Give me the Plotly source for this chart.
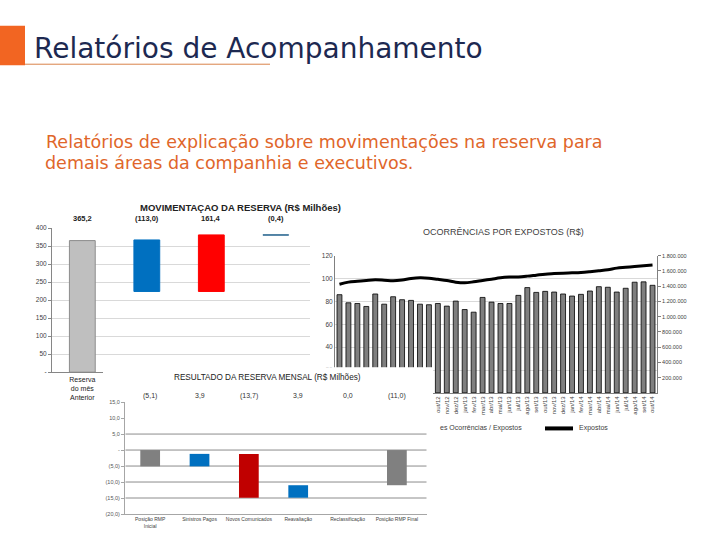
import plotly.graph_objects as go

# ---- dados ----
# grafico 1: movimentacao da reserva (R$ milhoes)
mov_rotulos = ["365,2", "(113,0)", "161,4", "(0,4)"]
mov_base = [0, 224, 224, 380.6]
mov_topo = [365.2, 367, 381, 381]
mov_cores = ["#bfbfbf", "#0070c0", "#ff0000", "#1f5f8b"]
mov_categoria = ["Reserva<br>do mês<br>Anterior"]
mov_yticks = [0, 50, 100, 150, 200, 250, 300, 350, 400]
mov_yticktext = ["-", "50", "100", "150", "200", "250", "300", "350", "400"]

# grafico 2: ocorrencias por expostos
meses = ["nov/11", "dez/11", "jan/12", "fev/12", "mar/12", "abr/12", "mai/12", "jun/12",
         "jul/12", "ago/12", "set/12", "out/12", "nov/12", "dez/12", "jan/13", "fev/13",
         "mar/13", "abr/13", "mai/13", "jun/13", "jul/13", "ago/13", "set/13", "out/13",
         "nov/13", "dez/13", "jan/14", "fev/14", "mar/14", "abr/14", "mai/14", "jun/14",
         "jul/14", "ago/14", "set/14", "out/14"]
ocorr_expostos = [85.9, 78.8, 78.2, 75.6, 86.5, 77.6, 84.1, 81.5, 80.9, 77.6, 77.1, 78.2,
                  75.9, 80.3, 72.9, 70.6, 83.5, 79.4, 78.2, 78.2, 85.3, 92.1, 87.9, 88.8,
                  88.2, 86.5, 84.7, 86.2, 89.1, 92.9, 92.4, 88.2, 91.5, 96.8, 97.1, 94.1]
expostos = [1426000, 1453000, 1465000, 1475000, 1483000, 1478000, 1470000, 1480000,
            1500000, 1510000, 1505000, 1490000, 1475000, 1453000, 1444000, 1457000,
            1475000, 1492000, 1510000, 1519000, 1522000, 1532000, 1545000, 1558000,
            1565000, 1571000, 1575000, 1580000, 1590000, 1602000, 1615000, 1637000,
            1648000, 1659000, 1668000, 1677000]
exp_ticks = [200000, 400000, 600000, 800000, 1000000, 1200000, 1400000, 1600000, 1800000]
exp_ticktext = ["200.000", "400.000", "600.000", "800.000", "1.000.000", "1.200.000",
                "1.400.000", "1.600.000", "1.800.000"]

# grafico 3: resultado da reserva mensal
res_categorias = ["Posição RMP<br>Inicial", "Sinistros Pagos", "Novos Comunicados",
                  "Reavaliação", "Reclassificação", "Posição RMP Final"]
res_valores = [-5.1, 3.9, -13.7, 3.9, 0.0, -11.0]
res_medidas = ["absolute", "relative", "relative", "relative", "relative", "total"]
res_rotulos = ["(5,1)", "3,9", "(13,7)", "3,9", "0,0", "(11,0)"]
res_yticks = [-20, -15, -10, -5, 0, 5, 10, 15]
res_yticktext = ["(20,0)", "(15,0)", "(10,0)", "(5,0)", "-", "5,0", "10,0", "15,0"]
res_grade = [5, 0, -5, -10, -15]


W, H = 720, 540


def px(p):
    return p / W


def py(p):
    return 1 - p / H


ARIAL = "Liberation Sans, Arial, sans-serif"

fig = go.Figure()

# grafico 1
fig.add_trace(go.Bar(
    x=list(range(len(mov_topo))),
    y=[t - b for t, b in zip(mov_topo, mov_base)],
    base=mov_base, width=0.4,
    marker=dict(color=mov_cores, line=dict(color=["#8c8c8c", "#0070c0", "#ff0000", "#1f5f8b"], width=1)),
    xaxis="x", yaxis="y", hoverinfo="skip"))

# grafico 2
fig.add_trace(go.Bar(
    x=meses, y=ocorr_expostos, width=0.55,
    marker=dict(color="#7f7f7f", line=dict(color="black", width=0.8)),
    xaxis="x2", yaxis="y2", name="Índice de Ocorrências / Expostos"))
fig.add_trace(go.Scatter(
    x=meses, y=expostos, mode="lines",
    line=dict(color="black", width=3, shape="spline"),
    xaxis="x2", yaxis="y3", name="Expostos"))

# fundo branco que cobre os outros graficos
fig.add_trace(go.Scatter(x=[None], y=[None], xaxis="x3", yaxis="y4",
                         showlegend=False, hoverinfo="skip"))

# grafico 3
fig.add_trace(go.Waterfall(
    x=res_categorias, y=res_valores, measure=res_medidas, width=0.4,
    textinfo="none",
    connector=dict(visible=False),
    increasing=dict(marker=dict(color="#0070c0", line=dict(width=0))),
    decreasing=dict(marker=dict(color="#c00000", line=dict(width=0))),
    totals=dict(marker=dict(color="#808080", line=dict(width=0))),
    xaxis="x4", yaxis="y5", hoverinfo="skip"))

ann = []
shapes = []

# cabecalho
shapes.append(dict(type="rect", xref="paper", yref="paper", x0=px(0), x1=px(25),
                   y0=py(62), y1=py(22), fillcolor="#f26522", line_width=0))
shapes.append(dict(type="line", xref="paper", yref="paper", x0=px(25), x1=px(270),
                   y0=py(61), y1=py(61), line=dict(color="#d9834a", width=1)))
ann.append(dict(text="Relatórios de Acompanhamento", x=px(32), y=py(45), xanchor="left",
                yanchor="middle", font=dict(family="DejaVu Sans", size=28, color="#1d2951")))
ann.append(dict(text="Relatórios de explicação sobre movimentações na reserva para",
                x=px(44), y=py(140), xanchor="left", yanchor="middle",
                font=dict(family="DejaVu Sans", size=17.5, color="#e0662a")))
ann.append(dict(text="demais áreas da companhia e executivos.",
                x=px(43), y=py(161), xanchor="left", yanchor="middle",
                font=dict(family="DejaVu Sans", size=17.5, color="#e0662a")))

# textos do grafico 1
ann.append(dict(text="<b>MOVIMENTAÇAO DA RESERVA (R$ Milhões)</b>", x=px(241), y=py(206),
                xanchor="center", yanchor="middle", font=dict(family=ARIAL, size=9.5, color="#222")))
for i, r in enumerate(mov_rotulos):
    ann.append(dict(text="<b>" + r + "</b>", xref="x", x=i, y=py(217), yanchor="middle",
                    font=dict(family=ARIAL, size=7.5, color="#222")))

# textos do grafico 2
ann.append(dict(text="OCORRÊNCIAS POR EXPOSTOS (R$)", x=px(503), y=py(231), xanchor="center",
                yanchor="middle", font=dict(family=ARIAL, size=9, color="#404040")))
ann.append(dict(text="es Ocorrências / Expostos", x=px(438), y=py(430), xanchor="left",
                yanchor="middle", font=dict(family=ARIAL, size=7, color="#404040")))
ann.append(dict(text="Expostos", x=px(577), y=py(430), xanchor="left",
                yanchor="middle", font=dict(family=ARIAL, size=7, color="#404040")))
shapes.append(dict(type="line", xref="paper", yref="paper", x0=px(545), x1=px(573),
                   y0=py(430), y1=py(430), line=dict(color="black", width=4), layer="above"))

# textos do grafico 3
ann.append(dict(text="RESULTADO DA RESERVA MENSAL (R$ Milhões)", x=px(267), y=py(378),
                xanchor="center", yanchor="middle", font=dict(family=ARIAL, size=8.2, color="#222")))
for c, r in zip(res_categorias, res_rotulos):
    ann.append(dict(text=r, xref="x4", x=c, y=py(397), yanchor="middle",
                    font=dict(family=ARIAL, size=7, color="#333")))
for g in res_grade:
    shapes.append(dict(type="line", xref="x4", yref="y5", x0=-0.5, x1=len(res_categorias) - 0.4,
                       y0=g, y1=g, line=dict(color="#8c8c8c", width=1), layer="below"))

for a in ann:
    a.setdefault("xref", "paper")
    a.setdefault("yref", "paper")
    a["showarrow"] = False

fig.update_layout(
    width=W, height=H, margin=dict(l=0, r=0, t=0, b=0),
    paper_bgcolor="white", plot_bgcolor="white", showlegend=False,
    font=dict(family=ARIAL, color="#333"),
    annotations=ann, shapes=shapes,
    xaxis=dict(domain=[px(52), px(310)], anchor="y", range=[-0.47, 3.53],
               tickvals=[0], ticktext=mov_categoria, tickfont=dict(size=7, color="#222"),
               showline=True, linecolor="#868686", showgrid=False, zeroline=False),
    yaxis=dict(domain=[py(373), py(227)], anchor="x", range=[0, 400],
               tickvals=mov_yticks, ticktext=mov_yticktext, tickfont=dict(size=6.5, color="#404040"),
               gridcolor="#d9d9d9", showline=True, linecolor="#868686", ticks="outside",
               ticklen=3, tickcolor="#868686", zeroline=False),
    xaxis2=dict(domain=[px(335), px(657)], anchor="y2", tickangle=-90,
                tickfont=dict(size=6, color="#404040"), showline=True, linecolor="#808080",
                showgrid=False),
    yaxis2=dict(domain=[py(394), py(255)], anchor="x2", range=[0, 120], dtick=20,
                tickfont=dict(size=6.5, color="#404040"), gridcolor="#d9d9d9",
                showline=True, linecolor="#808080", zeroline=False),
    yaxis3=dict(overlaying="y2", anchor="x2", side="right", range=[0, 1800000],
                tickvals=exp_ticks, ticktext=exp_ticktext, tickfont=dict(size=5.5, color="#404040"),
                showgrid=False, showline=True, linecolor="#808080", ticks="outside",
                ticklen=3, tickcolor="#808080", zeroline=False),
    xaxis3=dict(domain=[px(103), px(433)], anchor="y4", visible=False),
    yaxis4=dict(domain=[0, py(368)], anchor="x3", visible=False),
    xaxis4=dict(domain=[px(125), px(427)], anchor="y5", tickfont=dict(size=5, color="#404040"),
                showline=True, linecolor="#a6a6a6", showgrid=False),
    yaxis5=dict(domain=[py(516.7), py(403.3)], anchor="x4", range=[-20, 15],
                tickvals=res_yticks, ticktext=res_yticktext, tickfont=dict(size=5.5, color="#555"),
                showgrid=False, showline=True, linecolor="#a6a6a6", ticks="outside",
                ticklen=3, tickcolor="#a6a6a6", zeroline=False),
)

# a pagina tem margem de 8px no body; zera para a figura ocupar a janela toda
fig.write_html("out.html", config={"displayModeBar": False},
               post_script="document.body.style.margin='0';")
